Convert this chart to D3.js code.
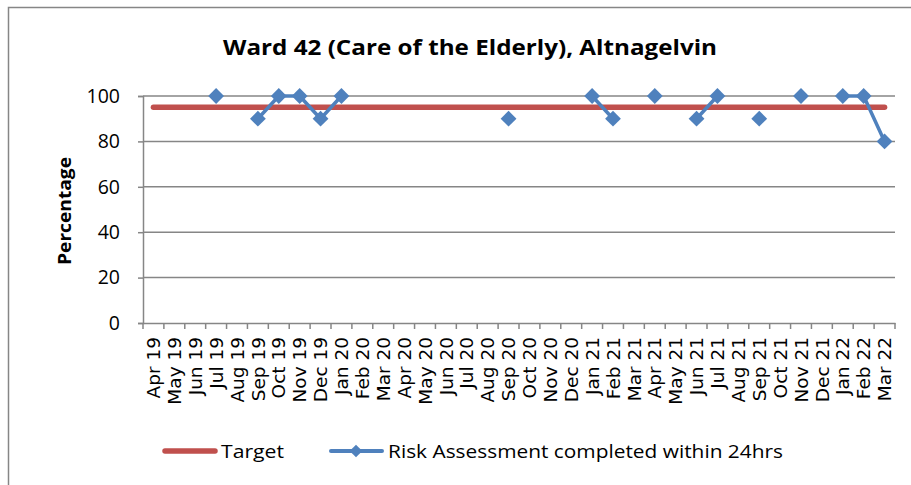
<!DOCTYPE html>
<html><head><meta charset="utf-8">
<script src="https://cdn.jsdelivr.net/npm/d3@7"></script>
<style>body{margin:0;background:#fff}svg{display:block}</style>
</head><body>
<script>
const months = ["Apr 19","May 19","Jun 19","Jul 19","Aug 19","Sep 19","Oct 19","Nov 19","Dec 19","Jan 20","Feb 20","Mar 20","Apr 20","May 20","Jun 20","Jul 20","Aug 20","Sep 20","Oct 20","Nov 20","Dec 20","Jan 21","Feb 21","Mar 21","Apr 21","May 21","Jun 21","Jul 21","Aug 21","Sep 21","Oct 21","Nov 21","Dec 21","Jan 22","Feb 22","Mar 22"];
const riskValues = [null,null,null,100,null,90,100,100,90,100,null,null,null,null,null,null,null,90,null,null,null,100,90,null,100,null,90,100,null,90,null,100,null,100,100,80];
const targetValue = 95;
const yTicks = [0,20,40,60,80,100];

const W = 911, H = 485;
const svg = d3.select("body").append("svg").attr("width", W).attr("height", H);
svg.append("rect").attr("x",8.5).attr("y",7.5).attr("width",W+10).attr("height",H+10)
  .attr("fill","#fff").attr("stroke","#868686").attr("stroke-width",1.5);

const x = d3.scaleBand().domain(months).range([143, 895]);
const y = d3.scaleLinear().domain([0,100]).range([323, 96]);
const grid = "#868686";

// gridlines
svg.append("g").selectAll("line").data(yTicks.filter(d=>d>0)).join("line")
  .attr("x1",143).attr("x2",895).attr("y1",d=>y(d)).attr("y2",d=>y(d))
  .attr("stroke",grid).attr("stroke-width",1.5);

// y axis
const yAxis = svg.append("g").attr("transform","translate(143,0)")
  .call(d3.axisLeft(y).tickValues(yTicks).tickSize(5).tickPadding(18));
yAxis.select(".domain").attr("stroke",grid).attr("stroke-width",1.5);
yAxis.selectAll(".tick line").attr("stroke",grid).attr("stroke-width",1.5);
yAxis.selectAll("text").attr("font-family","'Open Sans', sans-serif").attr("font-size",19.5).attr("fill","#000");

// x axis
const xAxis = svg.append("g").attr("transform","translate(0,323)")
  .call(d3.axisBottom(x).tickSize(0).tickPadding(0));
xAxis.select(".domain").attr("stroke",grid).attr("stroke-width",1.5);
xAxis.selectAll(".tick line").remove();
const bounds = months.map(m=>x(m)).concat([895]);
xAxis.append("g").selectAll("line").data(bounds).join("line")
  .attr("x1",d=>d).attr("x2",d=>d).attr("y1",0).attr("y2",6)
  .attr("stroke",grid).attr("stroke-width",1.5);
xAxis.selectAll(".tick text")
  .attr("font-family","'DejaVu Sans', sans-serif").attr("font-size",18.5).attr("fill","#000")
  .attr("text-anchor","end").attr("dy","0.36em")
  .attr("transform","translate(0,14) rotate(-90)");

// target line
const cx = m => x(m) + x.bandwidth()/2;
svg.append("path")
  .datum(months)
  .attr("d", d3.line().x(cx).y(()=>y(targetValue)))
  .attr("fill","none").attr("stroke","#C0504D").attr("stroke-width",5.5).attr("stroke-linecap","round");

// risk line (gaps)
const pts = months.map((m,i)=>({m, v:riskValues[i]}));
svg.append("path").datum(pts)
  .attr("d", d3.line().defined(d=>d.v!=null).x(d=>cx(d.m)).y(d=>y(d.v)))
  .attr("fill","none").attr("stroke","#4F81BD").attr("stroke-width",3.5).attr("stroke-linejoin","round");
const diamond = d3.symbol().type(d3.symbolSquare).size(125);
svg.append("g").selectAll("path").data(pts.filter(d=>d.v!=null)).join("path")
  .attr("d", diamond)
  .attr("transform", d=>`translate(${cx(d.m)},${y(d.v)}) rotate(45)`)
  .attr("fill","#4F81BD");

// title
svg.append("text").attr("x",470).attr("y",55).attr("text-anchor","middle")
  .attr("font-family","'Open Sans', sans-serif").attr("font-weight","bold").attr("font-size",22)
  .attr("textLength",494).attr("lengthAdjust","spacingAndGlyphs")
  .text("Ward 42 (Care of the Elderly), Altnagelvin");

// y title
svg.append("text").attr("transform","translate(71,211) rotate(-90)").attr("text-anchor","middle")
  .attr("font-family","'Open Sans', sans-serif").attr("font-weight","bold").attr("font-size",18)
  .attr("textLength",108).attr("lengthAdjust","spacingAndGlyphs")
  .text("Percentage");

// legend
const lg = svg.append("g");
lg.append("line").attr("x1",165).attr("x2",215).attr("y1",451).attr("y2",451)
  .attr("stroke","#C0504D").attr("stroke-width",5.5).attr("stroke-linecap","round");
lg.append("text").attr("x",221).attr("y",458).attr("font-family","'Open Sans', sans-serif").attr("font-size",19)
  .attr("textLength",63).attr("lengthAdjust","spacingAndGlyphs").text("Target");
lg.append("line").attr("x1",331).attr("x2",382).attr("y1",451).attr("y2",451)
  .attr("stroke","#4F81BD").attr("stroke-width",4).attr("stroke-linecap","round");
lg.append("path").attr("d",d3.symbol().type(d3.symbolSquare).size(80))
  .attr("transform","translate(356,451) rotate(45)").attr("fill","#4F81BD");
lg.append("text").attr("x",388).attr("y",458).attr("font-family","'Open Sans', sans-serif").attr("font-size",19)
  .attr("textLength",395).attr("lengthAdjust","spacingAndGlyphs").text("Risk Assessment completed within 24hrs");
</script>
</body></html>
